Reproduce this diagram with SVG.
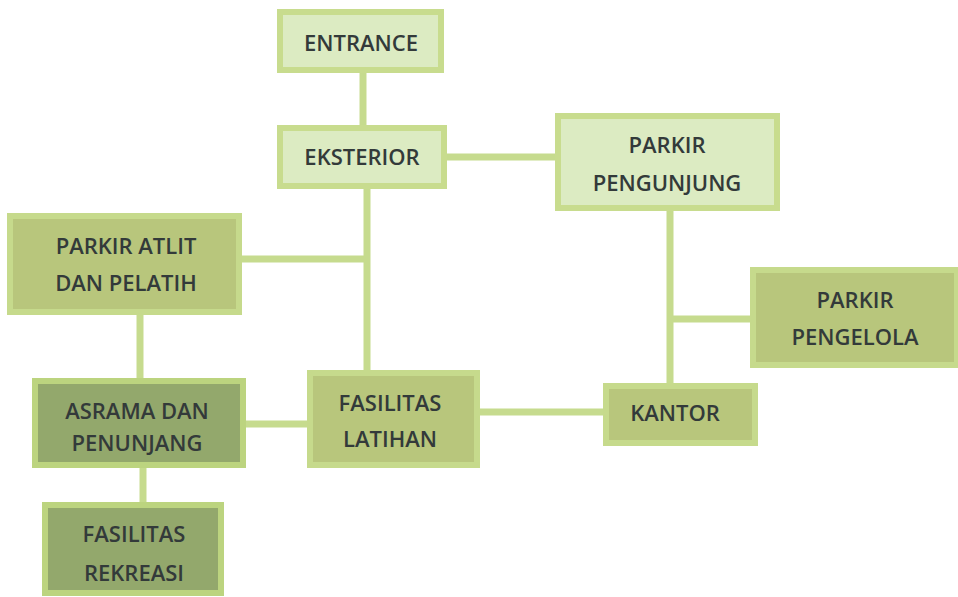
<svg xmlns="http://www.w3.org/2000/svg" width="958" height="597" viewBox="0 0 958 597">
<style>
.l rect{fill:#dcebc2;stroke:#c8dc8e;stroke-width:6}
.m rect{fill:#b8c67c;stroke:#c6da8c;stroke-width:6}
.d rect{fill:#93a86c;stroke:#bcd47f;stroke-width:6}
text{font-family:"Open Sans","Liberation Sans",sans-serif;font-weight:600;font-size:22px;fill:#333a3a;text-anchor:middle}
#connectors line{stroke:#c6db8e;stroke-width:7}
</style>
<rect width="958" height="597" fill="#ffffff"/>
<g id="connectors">
<line x1="363" y1="72" x2="363" y2="128"/>
<line x1="446" y1="157" x2="556" y2="157"/>
<line x1="367" y1="188" x2="367" y2="372"/>
<line x1="242" y1="259" x2="367" y2="259"/>
<line x1="140" y1="312" x2="140" y2="379"/>
<line x1="244" y1="424" x2="309" y2="424"/>
<line x1="143" y1="465" x2="143" y2="503"/>
<line x1="478" y1="412" x2="604" y2="412"/>
<line x1="670" y1="210" x2="670" y2="384"/>
<line x1="670" y1="319" x2="751" y2="319"/>
</g>
<g id="entrance" class="l"><rect x="280" y="12" width="161" height="58"/><text x="361" y="51">ENTRANCE</text></g>
<g id="eksterior" class="l"><rect x="280" y="128" width="164" height="58"/><text x="362" y="165">EKSTERIOR</text></g>
<g id="parkir-pengunjung" class="l"><rect x="558" y="116" width="219" height="92"/><text x="667" y="153">PARKIR</text><text x="667" y="191">PENGUNJUNG</text></g>
<g id="parkir-atlit" class="m"><rect x="10" y="216" width="229" height="96"/><text x="126" y="254">PARKIR ATLIT</text><text x="126" y="291">DAN PELATIH</text></g>
<g id="parkir-pengelola" class="m"><rect x="753" y="270" width="204" height="95"/><text x="855" y="308">PARKIR</text><text x="855" y="345">PENGELOLA</text></g>
<g id="asrama" class="d"><rect x="35" y="381" width="208" height="84"/><text x="137" y="419">ASRAMA DAN</text><text x="137" y="451">PENUNJANG</text></g>
<g id="fasilitas-latihan" class="m"><rect x="310" y="373" width="167" height="92"/><text x="390" y="411">FASILITAS</text><text x="390" y="447">LATIHAN</text></g>
<g id="kantor" class="m"><rect x="606" y="386" width="149" height="57"/><text x="675" y="421">KANTOR</text></g>
<g id="fasilitas-rekreasi" class="d"><rect x="45" y="505" width="176" height="88"/><text x="134" y="542">FASILITAS</text><text x="134" y="581">REKREASI</text></g>
</svg>
